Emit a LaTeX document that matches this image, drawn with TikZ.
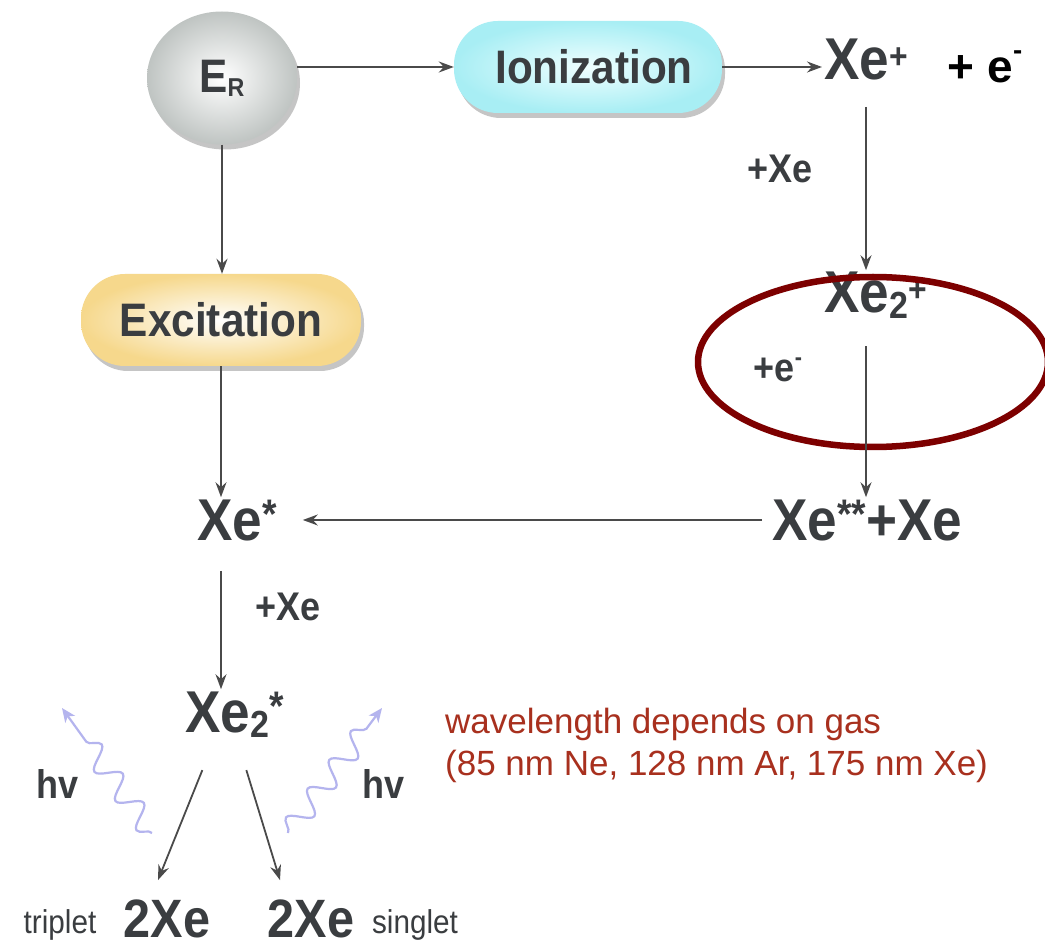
\documentclass[tikz,border=0pt]{standalone}
\usepackage{fontspec}
\setmainfont{Liberation Sans}[FakeStretch=0.9]
\newfontfamily\plainsans{Liberation Sans}
\usetikzlibrary{arrows.meta,shadows,decorations.pathmorphing,calc,shapes.geometric}
\definecolor{txt}{HTML}{3A3D40}
\definecolor{arr}{HTML}{4A4A4A}
\definecolor{ring}{HTML}{7D0000}
\definecolor{wavec}{HTML}{B4B4EE}
\definecolor{redtxt}{HTML}{A8301E}
\definecolor{ioncyan}{HTML}{A8EEF4}
\definecolor{excyel}{HTML}{F6D88C}
\definecolor{ergray}{HTML}{BFC4C2}
\newcommand\lowidx[1]{\raisebox{-0.1em}{\scalebox{0.64}{#1}}}
\newcommand\plusidx{\raisebox{0.2em}{\scalebox{0.6}{+}}}
\newcommand\minusidx{\raisebox{0.42em}{\scalebox{0.6}{-}}}
\newcommand\astidx[1]{\raisebox{0.2em}{\scalebox{0.7}{#1}}}
\begin{document}
\begin{tikzpicture}[x=1pt,y=-1pt,
  big/.style={font=\fontsize{59}{60}\selectfont\bfseries, text=txt, inner sep=2pt, anchor=base west},
  two/.style={font=\fontsize{54}{56}\selectfont\bfseries, text=txt, inner sep=1pt, anchor=base},
  mid/.style={font=\fontsize{40}{42}\selectfont\bfseries, text=txt, inner sep=2pt, anchor=base},
  small/.style={font=\fontsize{33}{35}\selectfont, text=txt, inner sep=1pt, anchor=base},
  note/.style={font=\plainsans\fontsize{35}{37}\selectfont, text=redtxt, inner sep=0pt, anchor=base west},
  boxlabel/.style={font=\fontsize{47}{48}\selectfont\bfseries, text=txt},
  conn/.style={draw=arr, line width=1.8pt, -{Stealth[length=15pt,width=11pt,inset=5pt]}},
  photon/.style={draw=wavec, line width=2.2pt, -{Stealth[length=14pt,width=12pt,inset=4pt]},
     decorate, decoration={snake, amplitude=11pt, segment length=36pt, post length=24pt}},
  shadowed/.style={drop shadow={opacity=0.45, shadow xshift=3pt, shadow yshift=-5pt}},
]
\useasboundingbox (0,0) rectangle (1045,949);
\fill[white] (0,0) rectangle (1045,949);

% shaded shapes
\node[ellipse, minimum width=150pt, minimum height=133pt, shade, shading=radial,
      inner color=white, outer color=ergray, shadowed, boxlabel] (ER) at (222,78)
      {E\raisebox{-0.08em}{\scalebox{0.55}{R}}};
\node[rectangle, rounded corners=44pt, minimum width=268pt, minimum height=92pt, shade,
      shading=radial, inner color=cyan!6, outer color=ioncyan, shadowed, boxlabel]
      (ion) at (588,67) {\hspace{12pt}Ionization};
\node[rectangle, rounded corners=44pt, minimum width=280pt, minimum height=92pt, shade,
      shading=radial, inner color=white, outer color=excyel, shadowed, boxlabel]
      (exc) at (221,320) {Excitation};

% column axes
\coordinate (rcol) at (866,0);

% text nodes
\node[big] (xep) at (822,80) {Xe\plusidx};
\node[font=\plainsans\fontsize{46}{48}\selectfont\bfseries, text=black, anchor=base]
      (em) at (985,83) {+ e\raisebox{0.5em}{\scalebox{0.6}{-}}};
\node[mid] (pxe1) at (780,183) {+Xe};
\node[big] (xe2p) at (822,313) {Xe\lowidx{2}\plusidx};
\node[mid] (pe) at (778,382) {+e\minusidx};
\node[big] (xexx) at (770,540) {Xe\astidx{**}+Xe};
\node[big] (xes) at (195,540) {Xe\astidx{*}};
\node[mid] (pxe2) at (288,620) {+Xe};
\node[big] (xe2s) at (183,732) {Xe\lowidx{2}\astidx{*}};
\node[mid] (hvl) at (58,798) {hv};
\node[mid] (hvr) at (384,798) {hv};
\node[two] (tw) at (167,937) {2Xe};
\node[small] (trip) at (60,933) {triplet};
\node[two] (sw) at (311,937) {2Xe};
\node[small] (sing) at (415,933) {singlet};
\node[note] (wl) at (445,733) {wavelength depends on gas};
\node[note] (nm) at (445,775) {(85 nm Ne, 128 nm Ar, 175 nm Xe)};

% highlight ring
\node[draw=ring, line width=6.5pt, ellipse, minimum width=350pt, minimum height=170pt]
      (hl) at (873,362) {};

% connectors
\draw[conn] (ion.west -| ER.east) -- (ion.west);
\draw[conn] (ion.east) -- (ion.east -| xep.west);
\draw[conn, shorten <=24pt] (rcol |- xep.south) -- (rcol |- xe2p.north);
\draw[conn, shorten <=25pt] (rcol |- xe2p.south) -- (rcol |- xexx.north);
\draw[conn, shorten <=8pt, shorten >=24pt] (xexx.west) -- (xexx.west -| xes.east);
\draw[conn] (ER.south) -- (ER.south |- exc.north);
\draw[conn] (exc.south) -- (exc.south |- xes.north);
\draw[conn, shorten <=28pt] (exc.south |- xes.south) -- (exc.south |- xe2s.north);
\draw[conn] ($(xe2s.south)+(-32,30)$) -- ($(tw.north)+(-9,-18)$);
\draw[conn] ($(xe2s.south)+(12,30)$) -- ($(sw.north)+(-31,-18)$);

% photons
\coordinate (wl1) at (152,833);
\coordinate (wl2) at (62,708);
\coordinate (wr1) at (288,833);
\coordinate (wr2) at (382,708);
\draw[photon] (wl1) -- (wl2);
\draw[photon] (wr1) -- (wr2);
\end{tikzpicture}
\end{document}
